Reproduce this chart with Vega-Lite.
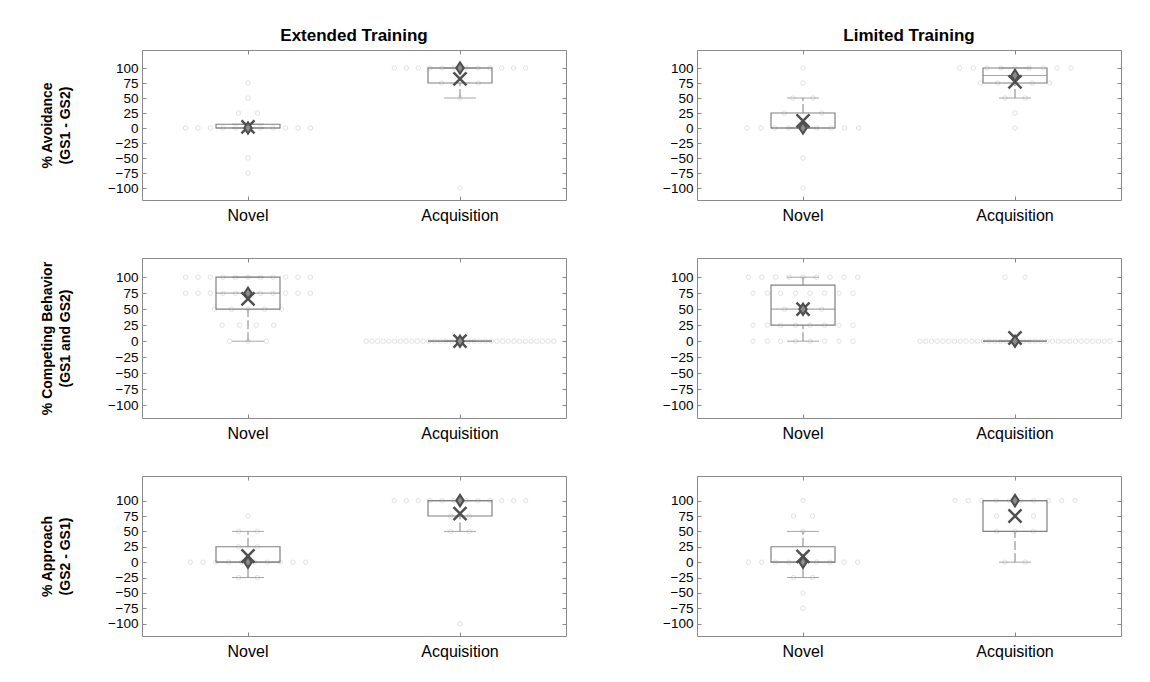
{
"$schema": "https://vega.github.io/schema/vega-lite/v6.json",
"background": "white",
"padding": {"left": 40, "top": 26, "right": 20, "bottom": 10},
"config": {
 "view": {"stroke": "#8a8a8a", "strokeWidth": 1},
 "font": "Liberation Sans",
 "axis": {"domain": false, "grid": false, "tickColor": "#8a8a8a", "labelColor": "#000000", "labelFont": "Liberation Sans", "titleFont": "Liberation Sans", "titleColor": "#000000"},
 "title": {"fontSize": 17, "fontWeight": "bold", "font": "Liberation Sans", "offset": 5, "color": "#000000"}
},
"datasets": {
"pts": [
{"training":"E","measure":"avoid","phase":"Novel","value":0,"dx":-5},{"training":"E","measure":"avoid","phase":"Novel","value":0,"dx":-4},{"training":"E","measure":"avoid","phase":"Novel","value":0,"dx":-3},{"training":"E","measure":"avoid","phase":"Novel","value":0,"dx":-2},{"training":"E","measure":"avoid","phase":"Novel","value":0,"dx":-1},{"training":"E","measure":"avoid","phase":"Novel","value":0,"dx":0},{"training":"E","measure":"avoid","phase":"Novel","value":0,"dx":1},{"training":"E","measure":"avoid","phase":"Novel","value":0,"dx":2},{"training":"E","measure":"avoid","phase":"Novel","value":0,"dx":3},{"training":"E","measure":"avoid","phase":"Novel","value":0,"dx":4},{"training":"E","measure":"avoid","phase":"Novel","value":0,"dx":5},
{"training":"E","measure":"avoid","phase":"Novel","value":25,"dx":-0.75},{"training":"E","measure":"avoid","phase":"Novel","value":25,"dx":0.75},{"training":"E","measure":"avoid","phase":"Novel","value":50,"dx":0},{"training":"E","measure":"avoid","phase":"Novel","value":75,"dx":0},{"training":"E","measure":"avoid","phase":"Novel","value":-50,"dx":0},{"training":"E","measure":"avoid","phase":"Novel","value":-75,"dx":0},
{"training":"E","measure":"avoid","phase":"Acquisition","value":100,"dx":-5.25},{"training":"E","measure":"avoid","phase":"Acquisition","value":100,"dx":-4.29},{"training":"E","measure":"avoid","phase":"Acquisition","value":100,"dx":-3.33},{"training":"E","measure":"avoid","phase":"Acquisition","value":100,"dx":-2.4},{"training":"E","measure":"avoid","phase":"Acquisition","value":100,"dx":-1.44},{"training":"E","measure":"avoid","phase":"Acquisition","value":100,"dx":-0.48},{"training":"E","measure":"avoid","phase":"Acquisition","value":100,"dx":0.48},{"training":"E","measure":"avoid","phase":"Acquisition","value":100,"dx":1.44},{"training":"E","measure":"avoid","phase":"Acquisition","value":100,"dx":2.4},{"training":"E","measure":"avoid","phase":"Acquisition","value":100,"dx":3.33},{"training":"E","measure":"avoid","phase":"Acquisition","value":100,"dx":4.29},{"training":"E","measure":"avoid","phase":"Acquisition","value":100,"dx":5.25},
{"training":"E","measure":"avoid","phase":"Acquisition","value":75,"dx":-1.47},{"training":"E","measure":"avoid","phase":"Acquisition","value":75,"dx":1.47},{"training":"E","measure":"avoid","phase":"Acquisition","value":50,"dx":0},{"training":"E","measure":"avoid","phase":"Acquisition","value":-100,"dx":0},
{"training":"L","measure":"avoid","phase":"Novel","value":100,"dx":0},{"training":"L","measure":"avoid","phase":"Novel","value":75,"dx":0},{"training":"L","measure":"avoid","phase":"Novel","value":50,"dx":-0.8},{"training":"L","measure":"avoid","phase":"Novel","value":50,"dx":0.8},{"training":"L","measure":"avoid","phase":"Novel","value":25,"dx":-1.5},{"training":"L","measure":"avoid","phase":"Novel","value":25,"dx":1.5},
{"training":"L","measure":"avoid","phase":"Novel","value":0,"dx":-4.48},{"training":"L","measure":"avoid","phase":"Novel","value":0,"dx":-3.36},{"training":"L","measure":"avoid","phase":"Novel","value":0,"dx":-2.27},{"training":"L","measure":"avoid","phase":"Novel","value":0,"dx":-1.15},{"training":"L","measure":"avoid","phase":"Novel","value":0,"dx":0},{"training":"L","measure":"avoid","phase":"Novel","value":0,"dx":1.12},{"training":"L","measure":"avoid","phase":"Novel","value":0,"dx":2.24},{"training":"L","measure":"avoid","phase":"Novel","value":0,"dx":3.33},{"training":"L","measure":"avoid","phase":"Novel","value":0,"dx":4.45},
{"training":"L","measure":"avoid","phase":"Novel","value":-50,"dx":0},{"training":"L","measure":"avoid","phase":"Novel","value":-100,"dx":0},
{"training":"L","measure":"avoid","phase":"Acquisition","value":100,"dx":-4.45},{"training":"L","measure":"avoid","phase":"Acquisition","value":100,"dx":-3.33},{"training":"L","measure":"avoid","phase":"Acquisition","value":100,"dx":-2.24},{"training":"L","measure":"avoid","phase":"Acquisition","value":100,"dx":-1.12},{"training":"L","measure":"avoid","phase":"Acquisition","value":100,"dx":0},{"training":"L","measure":"avoid","phase":"Acquisition","value":100,"dx":1.15},{"training":"L","measure":"avoid","phase":"Acquisition","value":100,"dx":2.27},{"training":"L","measure":"avoid","phase":"Acquisition","value":100,"dx":3.36},{"training":"L","measure":"avoid","phase":"Acquisition","value":100,"dx":4.48},
{"training":"L","measure":"avoid","phase":"Acquisition","value":75,"dx":-2.76},{"training":"L","measure":"avoid","phase":"Acquisition","value":75,"dx":-1.38},{"training":"L","measure":"avoid","phase":"Acquisition","value":75,"dx":1.38},{"training":"L","measure":"avoid","phase":"Acquisition","value":75,"dx":2.76},{"training":"L","measure":"avoid","phase":"Acquisition","value":50,"dx":-0.8},{"training":"L","measure":"avoid","phase":"Acquisition","value":50,"dx":0.8},{"training":"L","measure":"avoid","phase":"Acquisition","value":25,"dx":0},{"training":"L","measure":"avoid","phase":"Acquisition","value":0,"dx":0},
{"training":"E","measure":"comp","phase":"Novel","value":100,"dx":-5},{"training":"E","measure":"comp","phase":"Novel","value":100,"dx":-4},{"training":"E","measure":"comp","phase":"Novel","value":100,"dx":-3},{"training":"E","measure":"comp","phase":"Novel","value":100,"dx":-2},{"training":"E","measure":"comp","phase":"Novel","value":100,"dx":-1},{"training":"E","measure":"comp","phase":"Novel","value":100,"dx":0},{"training":"E","measure":"comp","phase":"Novel","value":100,"dx":1},{"training":"E","measure":"comp","phase":"Novel","value":100,"dx":2},{"training":"E","measure":"comp","phase":"Novel","value":100,"dx":3},{"training":"E","measure":"comp","phase":"Novel","value":100,"dx":4},{"training":"E","measure":"comp","phase":"Novel","value":100,"dx":5},
{"training":"E","measure":"comp","phase":"Novel","value":75,"dx":-5},{"training":"E","measure":"comp","phase":"Novel","value":75,"dx":-4},{"training":"E","measure":"comp","phase":"Novel","value":75,"dx":-3},{"training":"E","measure":"comp","phase":"Novel","value":75,"dx":-2},{"training":"E","measure":"comp","phase":"Novel","value":75,"dx":-1},{"training":"E","measure":"comp","phase":"Novel","value":75,"dx":0},{"training":"E","measure":"comp","phase":"Novel","value":75,"dx":1},{"training":"E","measure":"comp","phase":"Novel","value":75,"dx":2},{"training":"E","measure":"comp","phase":"Novel","value":75,"dx":3},{"training":"E","measure":"comp","phase":"Novel","value":75,"dx":4},{"training":"E","measure":"comp","phase":"Novel","value":75,"dx":5},
{"training":"E","measure":"comp","phase":"Novel","value":50,"dx":-2.67},{"training":"E","measure":"comp","phase":"Novel","value":50,"dx":-1.33},{"training":"E","measure":"comp","phase":"Novel","value":50,"dx":0},{"training":"E","measure":"comp","phase":"Novel","value":50,"dx":1.33},{"training":"E","measure":"comp","phase":"Novel","value":50,"dx":2.67},
{"training":"E","measure":"comp","phase":"Novel","value":25,"dx":-2.07},{"training":"E","measure":"comp","phase":"Novel","value":25,"dx":-0.67},{"training":"E","measure":"comp","phase":"Novel","value":25,"dx":0.67},{"training":"E","measure":"comp","phase":"Novel","value":25,"dx":2.05},
{"training":"E","measure":"comp","phase":"Novel","value":0,"dx":-1.47},{"training":"E","measure":"comp","phase":"Novel","value":0,"dx":0},{"training":"E","measure":"comp","phase":"Novel","value":0,"dx":1.47},
{"training":"E","measure":"comp","phase":"Acquisition","value":0,"dx":-7.5},{"training":"E","measure":"comp","phase":"Acquisition","value":0,"dx":-7.05},{"training":"E","measure":"comp","phase":"Acquisition","value":0,"dx":-6.59},{"training":"E","measure":"comp","phase":"Acquisition","value":0,"dx":-6.14},{"training":"E","measure":"comp","phase":"Acquisition","value":0,"dx":-5.68},{"training":"E","measure":"comp","phase":"Acquisition","value":0,"dx":-5.23},{"training":"E","measure":"comp","phase":"Acquisition","value":0,"dx":-4.77},{"training":"E","measure":"comp","phase":"Acquisition","value":0,"dx":-4.32},{"training":"E","measure":"comp","phase":"Acquisition","value":0,"dx":-3.86},{"training":"E","measure":"comp","phase":"Acquisition","value":0,"dx":-3.41},{"training":"E","measure":"comp","phase":"Acquisition","value":0,"dx":-2.95},{"training":"E","measure":"comp","phase":"Acquisition","value":0,"dx":-2.5},{"training":"E","measure":"comp","phase":"Acquisition","value":0,"dx":-2.05},{"training":"E","measure":"comp","phase":"Acquisition","value":0,"dx":-1.59},{"training":"E","measure":"comp","phase":"Acquisition","value":0,"dx":-1.14},{"training":"E","measure":"comp","phase":"Acquisition","value":0,"dx":-0.68},{"training":"E","measure":"comp","phase":"Acquisition","value":0,"dx":-0.23},{"training":"E","measure":"comp","phase":"Acquisition","value":0,"dx":0.23},{"training":"E","measure":"comp","phase":"Acquisition","value":0,"dx":0.68},{"training":"E","measure":"comp","phase":"Acquisition","value":0,"dx":1.14},{"training":"E","measure":"comp","phase":"Acquisition","value":0,"dx":1.59},{"training":"E","measure":"comp","phase":"Acquisition","value":0,"dx":2.05},{"training":"E","measure":"comp","phase":"Acquisition","value":0,"dx":2.5},{"training":"E","measure":"comp","phase":"Acquisition","value":0,"dx":2.95},{"training":"E","measure":"comp","phase":"Acquisition","value":0,"dx":3.41},{"training":"E","measure":"comp","phase":"Acquisition","value":0,"dx":3.86},{"training":"E","measure":"comp","phase":"Acquisition","value":0,"dx":4.32},{"training":"E","measure":"comp","phase":"Acquisition","value":0,"dx":4.77},{"training":"E","measure":"comp","phase":"Acquisition","value":0,"dx":5.23},{"training":"E","measure":"comp","phase":"Acquisition","value":0,"dx":5.68},{"training":"E","measure":"comp","phase":"Acquisition","value":0,"dx":6.14},{"training":"E","measure":"comp","phase":"Acquisition","value":0,"dx":6.59},{"training":"E","measure":"comp","phase":"Acquisition","value":0,"dx":7.05},{"training":"E","measure":"comp","phase":"Acquisition","value":0,"dx":7.5},
{"training":"L","measure":"comp","phase":"Novel","value":100,"dx":-4.37},{"training":"L","measure":"comp","phase":"Novel","value":100,"dx":-3.3},{"training":"L","measure":"comp","phase":"Novel","value":100,"dx":-2.19},{"training":"L","measure":"comp","phase":"Novel","value":100,"dx":-1.12},{"training":"L","measure":"comp","phase":"Novel","value":100,"dx":0},{"training":"L","measure":"comp","phase":"Novel","value":100,"dx":1.09},{"training":"L","measure":"comp","phase":"Novel","value":100,"dx":2.16},{"training":"L","measure":"comp","phase":"Novel","value":100,"dx":3.28},{"training":"L","measure":"comp","phase":"Novel","value":100,"dx":4.37},
{"training":"L","measure":"comp","phase":"Novel","value":75,"dx":-4},{"training":"L","measure":"comp","phase":"Novel","value":75,"dx":-2.85},{"training":"L","measure":"comp","phase":"Novel","value":75,"dx":-1.79},{"training":"L","measure":"comp","phase":"Novel","value":75,"dx":-0.59},{"training":"L","measure":"comp","phase":"Novel","value":75,"dx":0.56},{"training":"L","measure":"comp","phase":"Novel","value":75,"dx":1.73},{"training":"L","measure":"comp","phase":"Novel","value":75,"dx":2.88},{"training":"L","measure":"comp","phase":"Novel","value":75,"dx":4},
{"training":"L","measure":"comp","phase":"Novel","value":50,"dx":-1.47},{"training":"L","measure":"comp","phase":"Novel","value":50,"dx":0},{"training":"L","measure":"comp","phase":"Novel","value":50,"dx":1.47},
{"training":"L","measure":"comp","phase":"Novel","value":25,"dx":-4},{"training":"L","measure":"comp","phase":"Novel","value":25,"dx":-2.85},{"training":"L","measure":"comp","phase":"Novel","value":25,"dx":-1.79},{"training":"L","measure":"comp","phase":"Novel","value":25,"dx":-0.59},{"training":"L","measure":"comp","phase":"Novel","value":25,"dx":0.56},{"training":"L","measure":"comp","phase":"Novel","value":25,"dx":1.73},{"training":"L","measure":"comp","phase":"Novel","value":25,"dx":2.88},{"training":"L","measure":"comp","phase":"Novel","value":25,"dx":4},
{"training":"L","measure":"comp","phase":"Novel","value":0,"dx":-4},{"training":"L","measure":"comp","phase":"Novel","value":0,"dx":-2.85},{"training":"L","measure":"comp","phase":"Novel","value":0,"dx":-1.79},{"training":"L","measure":"comp","phase":"Novel","value":0,"dx":-0.59},{"training":"L","measure":"comp","phase":"Novel","value":0,"dx":0.56},{"training":"L","measure":"comp","phase":"Novel","value":0,"dx":1.73},{"training":"L","measure":"comp","phase":"Novel","value":0,"dx":2.88},{"training":"L","measure":"comp","phase":"Novel","value":0,"dx":4},
{"training":"L","measure":"comp","phase":"Acquisition","value":100,"dx":-0.8},{"training":"L","measure":"comp","phase":"Acquisition","value":100,"dx":0.8},
{"training":"L","measure":"comp","phase":"Acquisition","value":0,"dx":-7.6},{"training":"L","measure":"comp","phase":"Acquisition","value":0,"dx":-7.14},{"training":"L","measure":"comp","phase":"Acquisition","value":0,"dx":-6.68},{"training":"L","measure":"comp","phase":"Acquisition","value":0,"dx":-6.22},{"training":"L","measure":"comp","phase":"Acquisition","value":0,"dx":-5.76},{"training":"L","measure":"comp","phase":"Acquisition","value":0,"dx":-5.3},{"training":"L","measure":"comp","phase":"Acquisition","value":0,"dx":-4.84},{"training":"L","measure":"comp","phase":"Acquisition","value":0,"dx":-4.38},{"training":"L","measure":"comp","phase":"Acquisition","value":0,"dx":-3.92},{"training":"L","measure":"comp","phase":"Acquisition","value":0,"dx":-3.46},{"training":"L","measure":"comp","phase":"Acquisition","value":0,"dx":-3},{"training":"L","measure":"comp","phase":"Acquisition","value":0,"dx":-2.54},{"training":"L","measure":"comp","phase":"Acquisition","value":0,"dx":-2.08},{"training":"L","measure":"comp","phase":"Acquisition","value":0,"dx":-1.62},{"training":"L","measure":"comp","phase":"Acquisition","value":0,"dx":-1.16},{"training":"L","measure":"comp","phase":"Acquisition","value":0,"dx":-0.7},{"training":"L","measure":"comp","phase":"Acquisition","value":0,"dx":-0.23},{"training":"L","measure":"comp","phase":"Acquisition","value":0,"dx":0.23},{"training":"L","measure":"comp","phase":"Acquisition","value":0,"dx":0.7},{"training":"L","measure":"comp","phase":"Acquisition","value":0,"dx":1.16},{"training":"L","measure":"comp","phase":"Acquisition","value":0,"dx":1.62},{"training":"L","measure":"comp","phase":"Acquisition","value":0,"dx":2.08},{"training":"L","measure":"comp","phase":"Acquisition","value":0,"dx":2.54},{"training":"L","measure":"comp","phase":"Acquisition","value":0,"dx":3},{"training":"L","measure":"comp","phase":"Acquisition","value":0,"dx":3.46},{"training":"L","measure":"comp","phase":"Acquisition","value":0,"dx":3.92},{"training":"L","measure":"comp","phase":"Acquisition","value":0,"dx":4.38},{"training":"L","measure":"comp","phase":"Acquisition","value":0,"dx":4.84},{"training":"L","measure":"comp","phase":"Acquisition","value":0,"dx":5.3},{"training":"L","measure":"comp","phase":"Acquisition","value":0,"dx":5.76},{"training":"L","measure":"comp","phase":"Acquisition","value":0,"dx":6.22},{"training":"L","measure":"comp","phase":"Acquisition","value":0,"dx":6.68},{"training":"L","measure":"comp","phase":"Acquisition","value":0,"dx":7.14},{"training":"L","measure":"comp","phase":"Acquisition","value":0,"dx":7.6},
{"training":"E","measure":"appr","phase":"Novel","value":75,"dx":0},{"training":"E","measure":"appr","phase":"Novel","value":50,"dx":-0.75},{"training":"E","measure":"appr","phase":"Novel","value":50,"dx":0.75},{"training":"E","measure":"appr","phase":"Novel","value":25,"dx":-0.75},{"training":"E","measure":"appr","phase":"Novel","value":25,"dx":0.75},
{"training":"E","measure":"appr","phase":"Novel","value":0,"dx":-4.62},{"training":"E","measure":"appr","phase":"Novel","value":0,"dx":-3.6},{"training":"E","measure":"appr","phase":"Novel","value":0,"dx":-2.57},{"training":"E","measure":"appr","phase":"Novel","value":0,"dx":-1.54},{"training":"E","measure":"appr","phase":"Novel","value":0,"dx":-0.51},{"training":"E","measure":"appr","phase":"Novel","value":0,"dx":0.51},{"training":"E","measure":"appr","phase":"Novel","value":0,"dx":1.54},{"training":"E","measure":"appr","phase":"Novel","value":0,"dx":2.57},{"training":"E","measure":"appr","phase":"Novel","value":0,"dx":3.6},{"training":"E","measure":"appr","phase":"Novel","value":0,"dx":4.62},
{"training":"E","measure":"appr","phase":"Novel","value":-25,"dx":-0.75},{"training":"E","measure":"appr","phase":"Novel","value":-25,"dx":0.75},
{"training":"E","measure":"appr","phase":"Acquisition","value":100,"dx":-5.25},{"training":"E","measure":"appr","phase":"Acquisition","value":100,"dx":-4.29},{"training":"E","measure":"appr","phase":"Acquisition","value":100,"dx":-3.33},{"training":"E","measure":"appr","phase":"Acquisition","value":100,"dx":-2.4},{"training":"E","measure":"appr","phase":"Acquisition","value":100,"dx":-1.44},{"training":"E","measure":"appr","phase":"Acquisition","value":100,"dx":-0.48},{"training":"E","measure":"appr","phase":"Acquisition","value":100,"dx":0.48},{"training":"E","measure":"appr","phase":"Acquisition","value":100,"dx":1.44},{"training":"E","measure":"appr","phase":"Acquisition","value":100,"dx":2.4},{"training":"E","measure":"appr","phase":"Acquisition","value":100,"dx":3.33},{"training":"E","measure":"appr","phase":"Acquisition","value":100,"dx":4.29},{"training":"E","measure":"appr","phase":"Acquisition","value":100,"dx":5.25},
{"training":"E","measure":"appr","phase":"Acquisition","value":75,"dx":-0.75},{"training":"E","measure":"appr","phase":"Acquisition","value":75,"dx":0.75},{"training":"E","measure":"appr","phase":"Acquisition","value":50,"dx":-0.75},{"training":"E","measure":"appr","phase":"Acquisition","value":50,"dx":0.75},{"training":"E","measure":"appr","phase":"Acquisition","value":-100,"dx":0},
{"training":"L","measure":"appr","phase":"Novel","value":100,"dx":0},{"training":"L","measure":"appr","phase":"Novel","value":75,"dx":-0.76},{"training":"L","measure":"appr","phase":"Novel","value":75,"dx":0.76},{"training":"L","measure":"appr","phase":"Novel","value":50,"dx":0},
{"training":"L","measure":"appr","phase":"Novel","value":0,"dx":-4.37},{"training":"L","measure":"appr","phase":"Novel","value":0,"dx":-3.3},{"training":"L","measure":"appr","phase":"Novel","value":0,"dx":-2.19},{"training":"L","measure":"appr","phase":"Novel","value":0,"dx":-1.12},{"training":"L","measure":"appr","phase":"Novel","value":0,"dx":0},{"training":"L","measure":"appr","phase":"Novel","value":0,"dx":1.09},{"training":"L","measure":"appr","phase":"Novel","value":0,"dx":2.16},{"training":"L","measure":"appr","phase":"Novel","value":0,"dx":3.28},{"training":"L","measure":"appr","phase":"Novel","value":0,"dx":4.37},
{"training":"L","measure":"appr","phase":"Novel","value":-25,"dx":-0.76},{"training":"L","measure":"appr","phase":"Novel","value":-25,"dx":0.76},{"training":"L","measure":"appr","phase":"Novel","value":-50,"dx":0},{"training":"L","measure":"appr","phase":"Novel","value":-75,"dx":0},
{"training":"L","measure":"appr","phase":"Acquisition","value":100,"dx":-4.8},{"training":"L","measure":"appr","phase":"Acquisition","value":100,"dx":-3.73},{"training":"L","measure":"appr","phase":"Acquisition","value":100,"dx":-2.66},{"training":"L","measure":"appr","phase":"Acquisition","value":100,"dx":-1.5},{"training":"L","measure":"appr","phase":"Acquisition","value":100,"dx":-0.43},{"training":"L","measure":"appr","phase":"Acquisition","value":100,"dx":0.43},{"training":"L","measure":"appr","phase":"Acquisition","value":100,"dx":1.5},{"training":"L","measure":"appr","phase":"Acquisition","value":100,"dx":2.66},{"training":"L","measure":"appr","phase":"Acquisition","value":100,"dx":3.73},{"training":"L","measure":"appr","phase":"Acquisition","value":100,"dx":4.8},
{"training":"L","measure":"appr","phase":"Acquisition","value":75,"dx":-1.47},{"training":"L","measure":"appr","phase":"Acquisition","value":75,"dx":1.47},{"training":"L","measure":"appr","phase":"Acquisition","value":50,"dx":-1.47},{"training":"L","measure":"appr","phase":"Acquisition","value":50,"dx":0},{"training":"L","measure":"appr","phase":"Acquisition","value":50,"dx":1.47},{"training":"L","measure":"appr","phase":"Acquisition","value":0,"dx":-0.8},{"training":"L","measure":"appr","phase":"Acquisition","value":0,"dx":0.8}
],
"st": [
{"training":"E","measure":"avoid","phase":"Novel","q1":0,"med":0,"q3":6.25,"lo":0,"hi":6.25,"mean":2},
{"training":"E","measure":"avoid","phase":"Acquisition","q1":75,"med":100,"q3":100,"lo":50,"hi":100,"mean":82},
{"training":"L","measure":"avoid","phase":"Novel","q1":0,"med":0,"q3":25,"lo":0,"hi":50,"mean":12},
{"training":"L","measure":"avoid","phase":"Acquisition","q1":75,"med":87.5,"q3":100,"lo":50,"hi":100,"mean":77},
{"training":"E","measure":"comp","phase":"Novel","q1":50,"med":75,"q3":100,"lo":0,"hi":100,"mean":66},
{"training":"E","measure":"comp","phase":"Acquisition","q1":0,"med":0,"q3":0,"lo":0,"hi":0,"mean":0},
{"training":"L","measure":"comp","phase":"Novel","q1":25,"med":50,"q3":87.5,"lo":0,"hi":100,"mean":50},
{"training":"L","measure":"comp","phase":"Acquisition","q1":0,"med":0,"q3":0,"lo":0,"hi":0,"mean":5},
{"training":"E","measure":"appr","phase":"Novel","q1":0,"med":0,"q3":25,"lo":-25,"hi":50,"mean":10},
{"training":"E","measure":"appr","phase":"Acquisition","q1":75,"med":100,"q3":100,"lo":50,"hi":100,"mean":79},
{"training":"L","measure":"appr","phase":"Novel","q1":0,"med":0,"q3":25,"lo":-25,"hi":50,"mean":9.5},
{"training":"L","measure":"appr","phase":"Acquisition","q1":50,"med":100,"q3":100,"lo":0,"hi":100,"mean":75}
]
},
"columns": 2,
"bounds": "flush",
"spacing": {"row": 58, "column": 131},
"concat": [
{"width": 424, "height": 150, "title": "Extended Training",
 "resolve": {"axis": {"x": "independent", "y": "independent"}},
 "layer": [
  {"data": {"name": "pts"}, "transform": [{"filter": "datum.training === 'E' && datum.measure === 'avoid'"}],
   "mark": {"type": "point", "shape": "circle", "filled": false, "size": 20, "strokeWidth": 0.8, "color": "#cccccc"},
   "encoding": {
    "x": {"field": "phase", "type": "nominal", "sort": ["Novel", "Acquisition"], "scale": {"domain": ["Novel", "Acquisition"], "paddingInner": 0, "paddingOuter": 0}, "axis": {"orient": "bottom", "title": null, "labelAngle": 0, "labelFontSize": 16, "tickSize": -4, "labelPadding": 11}},
    "xOffset": {"field": "dx", "type": "quantitative", "scale": {"domain": [-1, 1], "range": [93.5, 118.5]}},
    "y": {"field": "value", "type": "quantitative", "scale": {"domain": [-120, 130], "nice": false, "zero": false}, "axis": {"orient": "left", "values": [100, 75, 50, 25, 0, -25, -50, -75, -100], "labelFontSize": 13.5, "tickSize": -4, "labelPadding": 8, "title": ["% Avoidance", "(GS1 - GS2)"], "titleFontSize": 14, "titleLineHeight": 18, "titleFontWeight": "bold", "titlePadding": 35}}}},
  {"data": {"name": "st"}, "transform": [{"filter": "datum.training === 'E' && datum.measure === 'avoid'"}],
   "mark": {"type": "rule", "color": "#808080", "strokeDash": [9, 3], "strokeWidth": 1},
   "encoding": {"x": {"field": "phase", "type": "nominal", "axis": {"orient": "top", "labels": false, "title": null, "tickSize": -4}}, "y": {"field": "lo", "type": "quantitative", "axis": {"orient": "right", "labels": false, "title": null, "tickSize": -4, "values": [100, 75, 50, 25, 0, -25, -50, -75, -100]}}, "y2": {"field": "q1"}}},
  {"data": {"name": "st"}, "transform": [{"filter": "datum.training === 'E' && datum.measure === 'avoid'"}],
   "mark": {"type": "rule", "color": "#808080", "strokeDash": [9, 3], "strokeWidth": 1},
   "encoding": {"x": {"field": "phase", "type": "nominal", "axis": null}, "y": {"field": "q3", "type": "quantitative", "axis": null}, "y2": {"field": "hi"}}},
  {"data": {"name": "st"}, "transform": [{"filter": "datum.training === 'E' && datum.measure === 'avoid'"}],
   "mark": {"type": "tick", "color": "#808080", "size": 32, "thickness": 1},
   "encoding": {"x": {"field": "phase", "type": "nominal", "axis": null}, "y": {"field": "lo", "type": "quantitative", "axis": null}}},
  {"data": {"name": "st"}, "transform": [{"filter": "datum.training === 'E' && datum.measure === 'avoid'"}],
   "mark": {"type": "tick", "color": "#808080", "size": 32, "thickness": 1},
   "encoding": {"x": {"field": "phase", "type": "nominal", "axis": null}, "y": {"field": "hi", "type": "quantitative", "axis": null}}},
  {"data": {"name": "st"}, "transform": [{"filter": "datum.training === 'E' && datum.measure === 'avoid'"}],
   "mark": {"type": "bar", "width": 64, "fill": "#ffffff", "fillOpacity": 0, "stroke": "#808080", "strokeWidth": 1.2},
   "encoding": {"x": {"field": "phase", "type": "nominal", "axis": null}, "y": {"field": "q1", "type": "quantitative", "axis": null}, "y2": {"field": "q3"}}},
  {"data": {"name": "st"}, "transform": [{"filter": "datum.training === 'E' && datum.measure === 'avoid'"}],
   "mark": {"type": "tick", "color": "#808080", "size": 64, "thickness": 1.2},
   "encoding": {"x": {"field": "phase", "type": "nominal", "axis": null}, "y": {"field": "med", "type": "quantitative", "axis": null}}},
  {"data": {"name": "st"}, "transform": [{"filter": "datum.training === 'E' && datum.measure === 'avoid'"}],
   "mark": {"type": "point", "shape": "M-1,-1L1,1M-1,1L1,-1", "filled": false, "color": "#505050", "strokeWidth": 2.5, "size": 170, "opacity": 1},
   "encoding": {"x": {"field": "phase", "type": "nominal", "axis": null}, "y": {"field": "mean", "type": "quantitative", "axis": null}}},
  {"data": {"name": "st"}, "transform": [{"filter": "datum.training === 'E' && datum.measure === 'avoid'"}],
   "mark": {"type": "point", "shape": "M0,-1L0.65,0L0,1L-0.65,0Z", "filled": true, "fill": "#8c8c8c", "stroke": "#4d4d4d", "strokeWidth": 2, "size": 130, "opacity": 1},
   "encoding": {"x": {"field": "phase", "type": "nominal", "axis": null}, "y": {"field": "med", "type": "quantitative", "axis": null}}}
 ]},
{"width": 424, "height": 150, "title": "Limited Training",
 "resolve": {"axis": {"x": "independent", "y": "independent"}},
 "layer": [
  {"data": {"name": "pts"}, "transform": [{"filter": "datum.training === 'L' && datum.measure === 'avoid'"}],
   "mark": {"type": "point", "shape": "circle", "filled": false, "size": 20, "strokeWidth": 0.8, "color": "#cccccc"},
   "encoding": {
    "x": {"field": "phase", "type": "nominal", "sort": ["Novel", "Acquisition"], "scale": {"domain": ["Novel", "Acquisition"], "paddingInner": 0, "paddingOuter": 0}, "axis": {"orient": "bottom", "title": null, "labelAngle": 0, "labelFontSize": 16, "tickSize": -4, "labelPadding": 11}},
    "xOffset": {"field": "dx", "type": "quantitative", "scale": {"domain": [-1, 1], "range": [93.5, 118.5]}},
    "y": {"field": "value", "type": "quantitative", "scale": {"domain": [-120, 130], "nice": false, "zero": false}, "axis": {"orient": "left", "values": [100, 75, 50, 25, 0, -25, -50, -75, -100], "labelFontSize": 13.5, "tickSize": -4, "labelPadding": 8, "title": null}}}},
  {"data": {"name": "st"}, "transform": [{"filter": "datum.training === 'L' && datum.measure === 'avoid'"}],
   "mark": {"type": "rule", "color": "#808080", "strokeDash": [9, 3], "strokeWidth": 1},
   "encoding": {"x": {"field": "phase", "type": "nominal", "axis": {"orient": "top", "labels": false, "title": null, "tickSize": -4}}, "y": {"field": "lo", "type": "quantitative", "axis": {"orient": "right", "labels": false, "title": null, "tickSize": -4, "values": [100, 75, 50, 25, 0, -25, -50, -75, -100]}}, "y2": {"field": "q1"}}},
  {"data": {"name": "st"}, "transform": [{"filter": "datum.training === 'L' && datum.measure === 'avoid'"}],
   "mark": {"type": "rule", "color": "#808080", "strokeDash": [9, 3], "strokeWidth": 1},
   "encoding": {"x": {"field": "phase", "type": "nominal", "axis": null}, "y": {"field": "q3", "type": "quantitative", "axis": null}, "y2": {"field": "hi"}}},
  {"data": {"name": "st"}, "transform": [{"filter": "datum.training === 'L' && datum.measure === 'avoid'"}],
   "mark": {"type": "tick", "color": "#808080", "size": 32, "thickness": 1},
   "encoding": {"x": {"field": "phase", "type": "nominal", "axis": null}, "y": {"field": "lo", "type": "quantitative", "axis": null}}},
  {"data": {"name": "st"}, "transform": [{"filter": "datum.training === 'L' && datum.measure === 'avoid'"}],
   "mark": {"type": "tick", "color": "#808080", "size": 32, "thickness": 1},
   "encoding": {"x": {"field": "phase", "type": "nominal", "axis": null}, "y": {"field": "hi", "type": "quantitative", "axis": null}}},
  {"data": {"name": "st"}, "transform": [{"filter": "datum.training === 'L' && datum.measure === 'avoid'"}],
   "mark": {"type": "bar", "width": 64, "fill": "#ffffff", "fillOpacity": 0, "stroke": "#808080", "strokeWidth": 1.2},
   "encoding": {"x": {"field": "phase", "type": "nominal", "axis": null}, "y": {"field": "q1", "type": "quantitative", "axis": null}, "y2": {"field": "q3"}}},
  {"data": {"name": "st"}, "transform": [{"filter": "datum.training === 'L' && datum.measure === 'avoid'"}],
   "mark": {"type": "tick", "color": "#808080", "size": 64, "thickness": 1.2},
   "encoding": {"x": {"field": "phase", "type": "nominal", "axis": null}, "y": {"field": "med", "type": "quantitative", "axis": null}}},
  {"data": {"name": "st"}, "transform": [{"filter": "datum.training === 'L' && datum.measure === 'avoid'"}],
   "mark": {"type": "point", "shape": "M-1,-1L1,1M-1,1L1,-1", "filled": false, "color": "#505050", "strokeWidth": 2.5, "size": 170, "opacity": 1},
   "encoding": {"x": {"field": "phase", "type": "nominal", "axis": null}, "y": {"field": "mean", "type": "quantitative", "axis": null}}},
  {"data": {"name": "st"}, "transform": [{"filter": "datum.training === 'L' && datum.measure === 'avoid'"}],
   "mark": {"type": "point", "shape": "M0,-1L0.65,0L0,1L-0.65,0Z", "filled": true, "fill": "#8c8c8c", "stroke": "#4d4d4d", "strokeWidth": 2, "size": 130, "opacity": 1},
   "encoding": {"x": {"field": "phase", "type": "nominal", "axis": null}, "y": {"field": "med", "type": "quantitative", "axis": null}}}
 ]},
{"width": 424, "height": 160,
 "resolve": {"axis": {"x": "independent", "y": "independent"}},
 "layer": [
  {"data": {"name": "pts"}, "transform": [{"filter": "datum.training === 'E' && datum.measure === 'comp'"}],
   "mark": {"type": "point", "shape": "circle", "filled": false, "size": 20, "strokeWidth": 0.8, "color": "#cccccc"},
   "encoding": {
    "x": {"field": "phase", "type": "nominal", "sort": ["Novel", "Acquisition"], "scale": {"domain": ["Novel", "Acquisition"], "paddingInner": 0, "paddingOuter": 0}, "axis": {"orient": "bottom", "title": null, "labelAngle": 0, "labelFontSize": 16, "tickSize": -4, "labelPadding": 11}},
    "xOffset": {"field": "dx", "type": "quantitative", "scale": {"domain": [-1, 1], "range": [93.5, 118.5]}},
    "y": {"field": "value", "type": "quantitative", "scale": {"domain": [-120, 130], "nice": false, "zero": false}, "axis": {"orient": "left", "values": [100, 75, 50, 25, 0, -25, -50, -75, -100], "labelFontSize": 13.5, "tickSize": -4, "labelPadding": 8, "title": ["% Competing Behavior", "(GS1 and GS2)"], "titleFontSize": 14, "titleLineHeight": 18, "titleFontWeight": "bold", "titlePadding": 35}}}},
  {"data": {"name": "st"}, "transform": [{"filter": "datum.training === 'E' && datum.measure === 'comp'"}],
   "mark": {"type": "rule", "color": "#808080", "strokeDash": [9, 3], "strokeWidth": 1},
   "encoding": {"x": {"field": "phase", "type": "nominal", "axis": {"orient": "top", "labels": false, "title": null, "tickSize": -4}}, "y": {"field": "lo", "type": "quantitative", "axis": {"orient": "right", "labels": false, "title": null, "tickSize": -4, "values": [100, 75, 50, 25, 0, -25, -50, -75, -100]}}, "y2": {"field": "q1"}}},
  {"data": {"name": "st"}, "transform": [{"filter": "datum.training === 'E' && datum.measure === 'comp'"}],
   "mark": {"type": "rule", "color": "#808080", "strokeDash": [9, 3], "strokeWidth": 1},
   "encoding": {"x": {"field": "phase", "type": "nominal", "axis": null}, "y": {"field": "q3", "type": "quantitative", "axis": null}, "y2": {"field": "hi"}}},
  {"data": {"name": "st"}, "transform": [{"filter": "datum.training === 'E' && datum.measure === 'comp'"}],
   "mark": {"type": "tick", "color": "#808080", "size": 32, "thickness": 1},
   "encoding": {"x": {"field": "phase", "type": "nominal", "axis": null}, "y": {"field": "lo", "type": "quantitative", "axis": null}}},
  {"data": {"name": "st"}, "transform": [{"filter": "datum.training === 'E' && datum.measure === 'comp'"}],
   "mark": {"type": "tick", "color": "#808080", "size": 32, "thickness": 1},
   "encoding": {"x": {"field": "phase", "type": "nominal", "axis": null}, "y": {"field": "hi", "type": "quantitative", "axis": null}}},
  {"data": {"name": "st"}, "transform": [{"filter": "datum.training === 'E' && datum.measure === 'comp'"}],
   "mark": {"type": "bar", "width": 64, "fill": "#ffffff", "fillOpacity": 0, "stroke": "#808080", "strokeWidth": 1.2},
   "encoding": {"x": {"field": "phase", "type": "nominal", "axis": null}, "y": {"field": "q1", "type": "quantitative", "axis": null}, "y2": {"field": "q3"}}},
  {"data": {"name": "st"}, "transform": [{"filter": "datum.training === 'E' && datum.measure === 'comp'"}],
   "mark": {"type": "tick", "color": "#808080", "size": 64, "thickness": 1.2},
   "encoding": {"x": {"field": "phase", "type": "nominal", "axis": null}, "y": {"field": "med", "type": "quantitative", "axis": null}}},
  {"data": {"name": "st"}, "transform": [{"filter": "datum.training === 'E' && datum.measure === 'comp'"}],
   "mark": {"type": "point", "shape": "M-1,-1L1,1M-1,1L1,-1", "filled": false, "color": "#505050", "strokeWidth": 2.5, "size": 170, "opacity": 1},
   "encoding": {"x": {"field": "phase", "type": "nominal", "axis": null}, "y": {"field": "mean", "type": "quantitative", "axis": null}}},
  {"data": {"name": "st"}, "transform": [{"filter": "datum.training === 'E' && datum.measure === 'comp'"}],
   "mark": {"type": "point", "shape": "M0,-1L0.65,0L0,1L-0.65,0Z", "filled": true, "fill": "#8c8c8c", "stroke": "#4d4d4d", "strokeWidth": 2, "size": 130, "opacity": 1},
   "encoding": {"x": {"field": "phase", "type": "nominal", "axis": null}, "y": {"field": "med", "type": "quantitative", "axis": null}}}
 ]},
{"width": 424, "height": 160,
 "resolve": {"axis": {"x": "independent", "y": "independent"}},
 "layer": [
  {"data": {"name": "pts"}, "transform": [{"filter": "datum.training === 'L' && datum.measure === 'comp'"}],
   "mark": {"type": "point", "shape": "circle", "filled": false, "size": 20, "strokeWidth": 0.8, "color": "#cccccc"},
   "encoding": {
    "x": {"field": "phase", "type": "nominal", "sort": ["Novel", "Acquisition"], "scale": {"domain": ["Novel", "Acquisition"], "paddingInner": 0, "paddingOuter": 0}, "axis": {"orient": "bottom", "title": null, "labelAngle": 0, "labelFontSize": 16, "tickSize": -4, "labelPadding": 11}},
    "xOffset": {"field": "dx", "type": "quantitative", "scale": {"domain": [-1, 1], "range": [93.5, 118.5]}},
    "y": {"field": "value", "type": "quantitative", "scale": {"domain": [-120, 130], "nice": false, "zero": false}, "axis": {"orient": "left", "values": [100, 75, 50, 25, 0, -25, -50, -75, -100], "labelFontSize": 13.5, "tickSize": -4, "labelPadding": 8, "title": null}}}},
  {"data": {"name": "st"}, "transform": [{"filter": "datum.training === 'L' && datum.measure === 'comp'"}],
   "mark": {"type": "rule", "color": "#808080", "strokeDash": [9, 3], "strokeWidth": 1},
   "encoding": {"x": {"field": "phase", "type": "nominal", "axis": {"orient": "top", "labels": false, "title": null, "tickSize": -4}}, "y": {"field": "lo", "type": "quantitative", "axis": {"orient": "right", "labels": false, "title": null, "tickSize": -4, "values": [100, 75, 50, 25, 0, -25, -50, -75, -100]}}, "y2": {"field": "q1"}}},
  {"data": {"name": "st"}, "transform": [{"filter": "datum.training === 'L' && datum.measure === 'comp'"}],
   "mark": {"type": "rule", "color": "#808080", "strokeDash": [9, 3], "strokeWidth": 1},
   "encoding": {"x": {"field": "phase", "type": "nominal", "axis": null}, "y": {"field": "q3", "type": "quantitative", "axis": null}, "y2": {"field": "hi"}}},
  {"data": {"name": "st"}, "transform": [{"filter": "datum.training === 'L' && datum.measure === 'comp'"}],
   "mark": {"type": "tick", "color": "#808080", "size": 32, "thickness": 1},
   "encoding": {"x": {"field": "phase", "type": "nominal", "axis": null}, "y": {"field": "lo", "type": "quantitative", "axis": null}}},
  {"data": {"name": "st"}, "transform": [{"filter": "datum.training === 'L' && datum.measure === 'comp'"}],
   "mark": {"type": "tick", "color": "#808080", "size": 32, "thickness": 1},
   "encoding": {"x": {"field": "phase", "type": "nominal", "axis": null}, "y": {"field": "hi", "type": "quantitative", "axis": null}}},
  {"data": {"name": "st"}, "transform": [{"filter": "datum.training === 'L' && datum.measure === 'comp'"}],
   "mark": {"type": "bar", "width": 64, "fill": "#ffffff", "fillOpacity": 0, "stroke": "#808080", "strokeWidth": 1.2},
   "encoding": {"x": {"field": "phase", "type": "nominal", "axis": null}, "y": {"field": "q1", "type": "quantitative", "axis": null}, "y2": {"field": "q3"}}},
  {"data": {"name": "st"}, "transform": [{"filter": "datum.training === 'L' && datum.measure === 'comp'"}],
   "mark": {"type": "tick", "color": "#808080", "size": 64, "thickness": 1.2},
   "encoding": {"x": {"field": "phase", "type": "nominal", "axis": null}, "y": {"field": "med", "type": "quantitative", "axis": null}}},
  {"data": {"name": "st"}, "transform": [{"filter": "datum.training === 'L' && datum.measure === 'comp'"}],
   "mark": {"type": "point", "shape": "M-1,-1L1,1M-1,1L1,-1", "filled": false, "color": "#505050", "strokeWidth": 2.5, "size": 170, "opacity": 1},
   "encoding": {"x": {"field": "phase", "type": "nominal", "axis": null}, "y": {"field": "mean", "type": "quantitative", "axis": null}}},
  {"data": {"name": "st"}, "transform": [{"filter": "datum.training === 'L' && datum.measure === 'comp'"}],
   "mark": {"type": "point", "shape": "M0,-1L0.65,0L0,1L-0.65,0Z", "filled": true, "fill": "#8c8c8c", "stroke": "#4d4d4d", "strokeWidth": 2, "size": 130, "opacity": 1},
   "encoding": {"x": {"field": "phase", "type": "nominal", "axis": null}, "y": {"field": "med", "type": "quantitative", "axis": null}}}
 ]},
{"width": 424, "height": 160,
 "resolve": {"axis": {"x": "independent", "y": "independent"}},
 "layer": [
  {"data": {"name": "pts"}, "transform": [{"filter": "datum.training === 'E' && datum.measure === 'appr'"}],
   "mark": {"type": "point", "shape": "circle", "filled": false, "size": 20, "strokeWidth": 0.8, "color": "#cccccc"},
   "encoding": {
    "x": {"field": "phase", "type": "nominal", "sort": ["Novel", "Acquisition"], "scale": {"domain": ["Novel", "Acquisition"], "paddingInner": 0, "paddingOuter": 0}, "axis": {"orient": "bottom", "title": null, "labelAngle": 0, "labelFontSize": 16, "tickSize": -4, "labelPadding": 11}},
    "xOffset": {"field": "dx", "type": "quantitative", "scale": {"domain": [-1, 1], "range": [93.5, 118.5]}},
    "y": {"field": "value", "type": "quantitative", "scale": {"domain": [-120, 140], "nice": false, "zero": false}, "axis": {"orient": "left", "values": [100, 75, 50, 25, 0, -25, -50, -75, -100], "labelFontSize": 13.5, "tickSize": -4, "labelPadding": 8, "title": ["% Approach", "(GS2 - GS1)"], "titleFontSize": 14, "titleLineHeight": 18, "titleFontWeight": "bold", "titlePadding": 35}}}},
  {"data": {"name": "st"}, "transform": [{"filter": "datum.training === 'E' && datum.measure === 'appr'"}],
   "mark": {"type": "rule", "color": "#808080", "strokeDash": [9, 3], "strokeWidth": 1},
   "encoding": {"x": {"field": "phase", "type": "nominal", "axis": {"orient": "top", "labels": false, "title": null, "tickSize": -4}}, "y": {"field": "lo", "type": "quantitative", "axis": {"orient": "right", "labels": false, "title": null, "tickSize": -4, "values": [100, 75, 50, 25, 0, -25, -50, -75, -100]}}, "y2": {"field": "q1"}}},
  {"data": {"name": "st"}, "transform": [{"filter": "datum.training === 'E' && datum.measure === 'appr'"}],
   "mark": {"type": "rule", "color": "#808080", "strokeDash": [9, 3], "strokeWidth": 1},
   "encoding": {"x": {"field": "phase", "type": "nominal", "axis": null}, "y": {"field": "q3", "type": "quantitative", "axis": null}, "y2": {"field": "hi"}}},
  {"data": {"name": "st"}, "transform": [{"filter": "datum.training === 'E' && datum.measure === 'appr'"}],
   "mark": {"type": "tick", "color": "#808080", "size": 32, "thickness": 1},
   "encoding": {"x": {"field": "phase", "type": "nominal", "axis": null}, "y": {"field": "lo", "type": "quantitative", "axis": null}}},
  {"data": {"name": "st"}, "transform": [{"filter": "datum.training === 'E' && datum.measure === 'appr'"}],
   "mark": {"type": "tick", "color": "#808080", "size": 32, "thickness": 1},
   "encoding": {"x": {"field": "phase", "type": "nominal", "axis": null}, "y": {"field": "hi", "type": "quantitative", "axis": null}}},
  {"data": {"name": "st"}, "transform": [{"filter": "datum.training === 'E' && datum.measure === 'appr'"}],
   "mark": {"type": "bar", "width": 64, "fill": "#ffffff", "fillOpacity": 0, "stroke": "#808080", "strokeWidth": 1.2},
   "encoding": {"x": {"field": "phase", "type": "nominal", "axis": null}, "y": {"field": "q1", "type": "quantitative", "axis": null}, "y2": {"field": "q3"}}},
  {"data": {"name": "st"}, "transform": [{"filter": "datum.training === 'E' && datum.measure === 'appr'"}],
   "mark": {"type": "tick", "color": "#808080", "size": 64, "thickness": 1.2},
   "encoding": {"x": {"field": "phase", "type": "nominal", "axis": null}, "y": {"field": "med", "type": "quantitative", "axis": null}}},
  {"data": {"name": "st"}, "transform": [{"filter": "datum.training === 'E' && datum.measure === 'appr'"}],
   "mark": {"type": "point", "shape": "M-1,-1L1,1M-1,1L1,-1", "filled": false, "color": "#505050", "strokeWidth": 2.5, "size": 170, "opacity": 1},
   "encoding": {"x": {"field": "phase", "type": "nominal", "axis": null}, "y": {"field": "mean", "type": "quantitative", "axis": null}}},
  {"data": {"name": "st"}, "transform": [{"filter": "datum.training === 'E' && datum.measure === 'appr'"}],
   "mark": {"type": "point", "shape": "M0,-1L0.65,0L0,1L-0.65,0Z", "filled": true, "fill": "#8c8c8c", "stroke": "#4d4d4d", "strokeWidth": 2, "size": 130, "opacity": 1},
   "encoding": {"x": {"field": "phase", "type": "nominal", "axis": null}, "y": {"field": "med", "type": "quantitative", "axis": null}}}
 ]},
{"width": 424, "height": 160,
 "resolve": {"axis": {"x": "independent", "y": "independent"}},
 "layer": [
  {"data": {"name": "pts"}, "transform": [{"filter": "datum.training === 'L' && datum.measure === 'appr'"}],
   "mark": {"type": "point", "shape": "circle", "filled": false, "size": 20, "strokeWidth": 0.8, "color": "#cccccc"},
   "encoding": {
    "x": {"field": "phase", "type": "nominal", "sort": ["Novel", "Acquisition"], "scale": {"domain": ["Novel", "Acquisition"], "paddingInner": 0, "paddingOuter": 0}, "axis": {"orient": "bottom", "title": null, "labelAngle": 0, "labelFontSize": 16, "tickSize": -4, "labelPadding": 11}},
    "xOffset": {"field": "dx", "type": "quantitative", "scale": {"domain": [-1, 1], "range": [93.5, 118.5]}},
    "y": {"field": "value", "type": "quantitative", "scale": {"domain": [-120, 140], "nice": false, "zero": false}, "axis": {"orient": "left", "values": [100, 75, 50, 25, 0, -25, -50, -75, -100], "labelFontSize": 13.5, "tickSize": -4, "labelPadding": 8, "title": null}}}},
  {"data": {"name": "st"}, "transform": [{"filter": "datum.training === 'L' && datum.measure === 'appr'"}],
   "mark": {"type": "rule", "color": "#808080", "strokeDash": [9, 3], "strokeWidth": 1},
   "encoding": {"x": {"field": "phase", "type": "nominal", "axis": {"orient": "top", "labels": false, "title": null, "tickSize": -4}}, "y": {"field": "lo", "type": "quantitative", "axis": {"orient": "right", "labels": false, "title": null, "tickSize": -4, "values": [100, 75, 50, 25, 0, -25, -50, -75, -100]}}, "y2": {"field": "q1"}}},
  {"data": {"name": "st"}, "transform": [{"filter": "datum.training === 'L' && datum.measure === 'appr'"}],
   "mark": {"type": "rule", "color": "#808080", "strokeDash": [9, 3], "strokeWidth": 1},
   "encoding": {"x": {"field": "phase", "type": "nominal", "axis": null}, "y": {"field": "q3", "type": "quantitative", "axis": null}, "y2": {"field": "hi"}}},
  {"data": {"name": "st"}, "transform": [{"filter": "datum.training === 'L' && datum.measure === 'appr'"}],
   "mark": {"type": "tick", "color": "#808080", "size": 32, "thickness": 1},
   "encoding": {"x": {"field": "phase", "type": "nominal", "axis": null}, "y": {"field": "lo", "type": "quantitative", "axis": null}}},
  {"data": {"name": "st"}, "transform": [{"filter": "datum.training === 'L' && datum.measure === 'appr'"}],
   "mark": {"type": "tick", "color": "#808080", "size": 32, "thickness": 1},
   "encoding": {"x": {"field": "phase", "type": "nominal", "axis": null}, "y": {"field": "hi", "type": "quantitative", "axis": null}}},
  {"data": {"name": "st"}, "transform": [{"filter": "datum.training === 'L' && datum.measure === 'appr'"}],
   "mark": {"type": "bar", "width": 64, "fill": "#ffffff", "fillOpacity": 0, "stroke": "#808080", "strokeWidth": 1.2},
   "encoding": {"x": {"field": "phase", "type": "nominal", "axis": null}, "y": {"field": "q1", "type": "quantitative", "axis": null}, "y2": {"field": "q3"}}},
  {"data": {"name": "st"}, "transform": [{"filter": "datum.training === 'L' && datum.measure === 'appr'"}],
   "mark": {"type": "tick", "color": "#808080", "size": 64, "thickness": 1.2},
   "encoding": {"x": {"field": "phase", "type": "nominal", "axis": null}, "y": {"field": "med", "type": "quantitative", "axis": null}}},
  {"data": {"name": "st"}, "transform": [{"filter": "datum.training === 'L' && datum.measure === 'appr'"}],
   "mark": {"type": "point", "shape": "M-1,-1L1,1M-1,1L1,-1", "filled": false, "color": "#505050", "strokeWidth": 2.5, "size": 170, "opacity": 1},
   "encoding": {"x": {"field": "phase", "type": "nominal", "axis": null}, "y": {"field": "mean", "type": "quantitative", "axis": null}}},
  {"data": {"name": "st"}, "transform": [{"filter": "datum.training === 'L' && datum.measure === 'appr'"}],
   "mark": {"type": "point", "shape": "M0,-1L0.65,0L0,1L-0.65,0Z", "filled": true, "fill": "#8c8c8c", "stroke": "#4d4d4d", "strokeWidth": 2, "size": 130, "opacity": 1},
   "encoding": {"x": {"field": "phase", "type": "nominal", "axis": null}, "y": {"field": "med", "type": "quantitative", "axis": null}}}
 ]}
]
}
